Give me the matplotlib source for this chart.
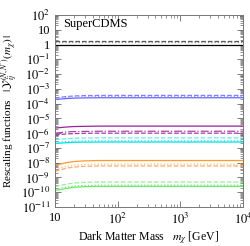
import matplotlib
matplotlib.use("Agg")
import matplotlib.pyplot as plt
import numpy as np
from matplotlib.ticker import LogLocator, FixedLocator, NullFormatter, FuncFormatter

plt.rcParams['font.family'] = ['Liberation Serif', 'DejaVu Serif']
plt.rcParams['mathtext.fontset'] = 'stix'

masses = [10, 15, 20, 30, 50, 100, 300, 1000, 10000]

black_solid = [1.0, 1.0, 1.0, 1.0, 1.0, 1.0, 1.0, 1.0, 1.0]
black_dashed = [1.7, 1.7, 1.7, 1.7, 1.7, 1.7, 1.7, 1.7, 1.7]
black_dotted = [1.45, 1.45, 1.45, 1.45, 1.45, 1.45, 1.45, 1.45, 1.45]

blue_solid = [1.9e-4, 2.2e-4, 2.35e-4, 2.45e-4, 2.5e-4, 2.5e-4, 2.5e-4, 2.5e-4, 2.5e-4]
blue_dashed = [2.4e-4, 3.0e-4, 3.3e-4, 3.5e-4, 3.6e-4, 3.6e-4, 3.6e-4, 3.6e-4, 3.6e-4]
blue_dotted = [2.1e-4, 2.6e-4, 2.8e-4, 2.9e-4, 3.0e-4, 3.0e-4, 3.0e-4, 3.0e-4, 3.0e-4]

purple_solid = [2.2e-6, 2.6e-6, 2.8e-6, 2.9e-6, 3.0e-6, 3.0e-6, 3.0e-6, 3.0e-6, 3.0e-6]
purple_dotted = [1.0e-6, 1.2e-6, 1.28e-6, 1.32e-6, 1.35e-6, 1.35e-6, 1.35e-6, 1.35e-6, 1.35e-6]
purple_dashed = [0.75e-6, 0.88e-6, 0.94e-6, 0.98e-6, 1.0e-6, 1.0e-6, 1.0e-6, 1.0e-6, 1.0e-6]

cyan_dashed = [3.6e-7, 4.2e-7, 4.5e-7, 4.7e-7, 4.8e-7, 4.8e-7, 4.8e-7, 4.8e-7, 4.8e-7]
cyan_dotted = [2.3e-7, 2.7e-7, 2.85e-7, 2.95e-7, 3.0e-7, 3.0e-7, 3.0e-7, 3.0e-7, 3.0e-7]
cyan_solid = [2.0e-7, 2.25e-7, 2.4e-7, 2.47e-7, 2.5e-7, 2.5e-7, 2.5e-7, 2.5e-7, 2.5e-7]

orange_solid = [6.5e-9, 1.0e-8, 1.2e-8, 1.33e-8, 1.4e-8, 1.4e-8, 1.4e-8, 1.4e-8, 1.4e-8]
orange_dotted = [3.5e-9, 5.6e-9, 6.8e-9, 7.6e-9, 8.0e-9, 8.0e-9, 8.0e-9, 8.0e-9, 8.0e-9]
orange_dashed = [2.6e-9, 4.2e-9, 5.1e-9, 5.7e-9, 6.0e-9, 6.0e-9, 6.0e-9, 6.0e-9, 6.0e-9]

green_dashed = [2.4e-10, 3.5e-10, 4.2e-10, 4.7e-10, 4.9e-10, 4.9e-10, 4.9e-10, 4.9e-10, 4.9e-10]
green_dotted = [1.6e-10, 2.2e-10, 2.6e-10, 2.85e-10, 3.0e-10, 3.0e-10, 3.0e-10, 3.0e-10, 3.0e-10]
green_solid = [1.3e-10, 1.8e-10, 2.15e-10, 2.4e-10, 2.5e-10, 2.5e-10, 2.5e-10, 2.5e-10, 2.5e-10]

y_ticks = [10.0**k for k in range(-11, 3)]

fig = plt.figure(figsize=(2.51, 2.46), dpi=100)
ax = fig.add_axes([55/251, 1 - 207/246, 188/251, 192/246])

lw = 0.9
series = [
    (black_solid, '#000000', '-'), (black_dashed, '#555555', '--'), (black_dotted, '#888888', ':'),
    (blue_solid, '#6666ff', '-'), (blue_dashed, '#8080ff', '--'), (blue_dotted, '#9999ff', ':'),
    (purple_solid, '#992299', '-'), (purple_dotted, '#aa44aa', '-.'), (purple_dashed, '#aa33aa', '--'),
    (cyan_dashed, '#66eeee', '--'), (cyan_dotted, '#33dddd', ':'), (cyan_solid, '#00e5e5', '-'),
    (orange_solid, '#ff9933', '-'), (orange_dotted, '#ffbb77', ':'), (orange_dashed, '#ffaa66', '--'),
    (green_dashed, '#99ee99', '--'), (green_dotted, '#77dd77', ':'), (green_solid, '#66ee66', '-'),
]
for vals, c, ls in series:
    ax.plot(masses, vals, color=c, ls=ls, lw=lw)

ax.set_xscale('log')
ax.set_yscale('log')
ax.set_xlim(10, 1e4)
ax.set_ylim(1e-11, 1e2)

def yfmt(v, pos):
    e = int(round(np.log10(v)))
    if e == 0:
        return '1'
    if e == 1:
        return '10'
    return r'$10^{%d}$' % e

def xfmt(v, pos):
    e = int(round(np.log10(v)))
    if e == 1:
        return '10'
    return r'$10^{%d}$' % e

ax.yaxis.set_major_locator(FixedLocator(y_ticks))
ax.yaxis.set_major_formatter(FuncFormatter(yfmt))
ax.yaxis.set_minor_locator(LogLocator(base=10, subs=np.arange(2, 10), numticks=50))
ax.yaxis.set_minor_formatter(NullFormatter())
ax.xaxis.set_major_formatter(FuncFormatter(xfmt))
ax.xaxis.set_minor_locator(LogLocator(base=10, subs=np.arange(2, 10), numticks=50))
ax.xaxis.set_minor_formatter(NullFormatter())

ax.tick_params(which='both', direction='in', top=True, right=True, labelsize=9, colors='#666666', labelcolor='black')
ax.tick_params(which='major', length=4, width=0.6)
ax.tick_params(which='minor', length=2, width=0.5)
for s in ax.spines.values():
    s.set_color('#777777')
    s.set_linewidth(0.7)

ax.set_xlabel(r'Dark Matter Mass   $m_\chi$ [GeV]', fontsize=8.5, labelpad=2)
ax.set_ylabel(r'Rescaling functions   $|\,\mathcal{Y}^{(N,N^\prime)}_{ij}(m_\chi)\,|$', fontsize=8, labelpad=1)
ax.text(0.045, 0.985, 'SuperCDMS', transform=ax.transAxes, fontsize=9, va='top', ha='left')

fig.savefig('out.png', dpi=100)
